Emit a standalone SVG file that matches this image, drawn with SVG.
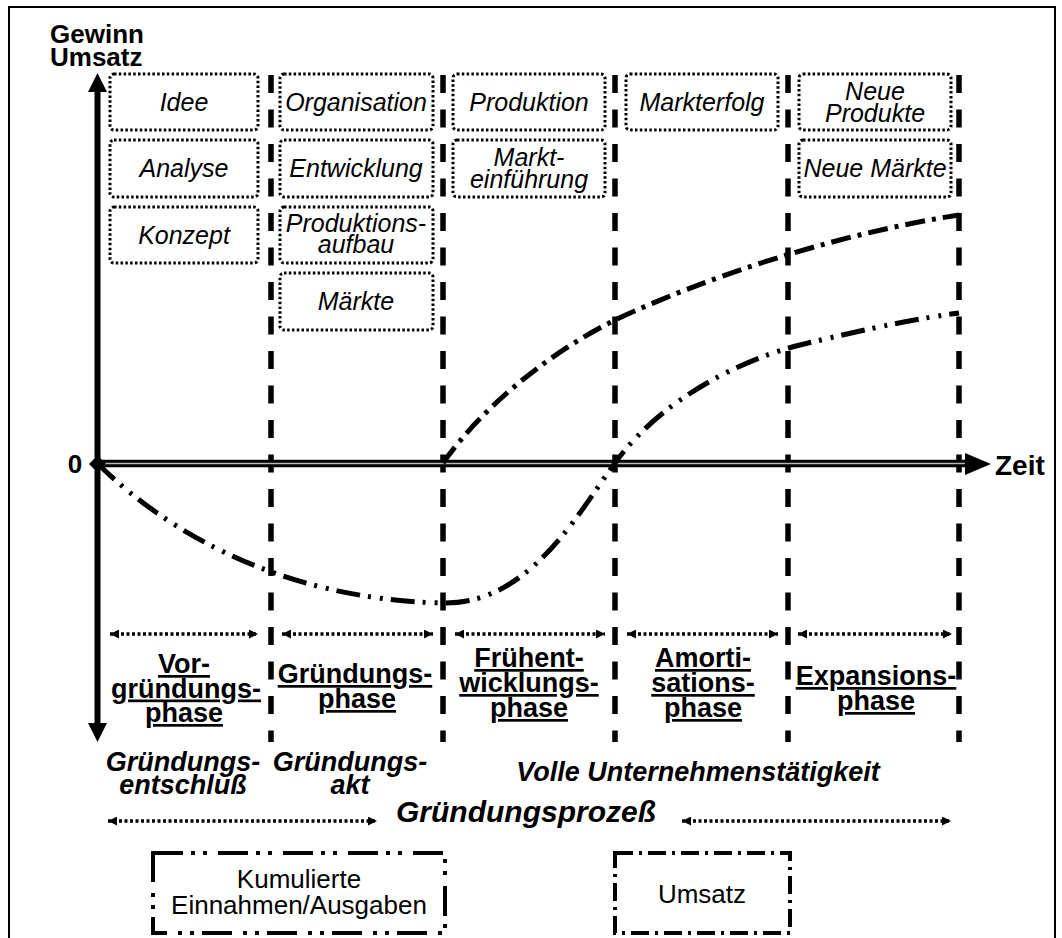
<svg xmlns="http://www.w3.org/2000/svg" width="1062" height="938" viewBox="0 0 1062 938">
<style>
.frame{fill:none;stroke:#000;stroke-width:2}
.vdash{stroke:#000;stroke-width:5.5;stroke-dasharray:18 16.5;fill:none}
.box{fill:#fff;stroke:#000;stroke-width:3;stroke-dasharray:2.5 2.3}
.it{font-family:"Liberation Sans",Arial,sans-serif;font-style:italic;font-size:25px;text-anchor:middle;fill:#000}
.ph{font-family:"Liberation Sans",Arial,sans-serif;font-weight:bold;font-size:27px;text-anchor:middle;text-decoration:underline;fill:#000}
.bi{font-family:"Liberation Sans",Arial,sans-serif;font-weight:bold;font-style:italic;font-size:27px;text-anchor:middle;fill:#000}
.b{font-family:"Liberation Sans",Arial,sans-serif;font-weight:bold;font-size:26px;fill:#000}
.leg{font-family:"Liberation Sans",Arial,sans-serif;font-size:26px;text-anchor:middle;fill:#000}
.arr{fill:none;stroke:#000;stroke-width:3.5;stroke-dasharray:3 2.5;marker-start:url(#ah);marker-end:url(#ah)}
.cum{fill:none;stroke:#000;stroke-width:5;stroke-dasharray:24 8 3 9 3 8}
.ums{fill:none;stroke:#000;stroke-width:5;stroke-dasharray:20 7 4 7}
.lcum{fill:#fff;stroke:#000;stroke-width:4;stroke-dasharray:30 8 4 8 4 11}
.lums{fill:#fff;stroke:#000;stroke-width:4;stroke-dasharray:18 6 3 6}
</style>
<defs>
<marker id="ah" viewBox="0 0 10 10" refX="10" refY="5" markerWidth="10" markerHeight="9" markerUnits="userSpaceOnUse" orient="auto-start-reverse">
<path d="M0,0 L10,5 L0,10 z" fill="#000"/>
</marker>
</defs>
<rect class="frame" x="9" y="7" width="1046" height="945"/>

<g id="phase-dividers">
<line class="vdash" x1="271" y1="75" x2="271" y2="742"/>
<line class="vdash" x1="443" y1="75" x2="443" y2="742"/>
<line class="vdash" x1="615" y1="75" x2="615" y2="742"/>
<line class="vdash" x1="788" y1="75" x2="788" y2="742"/>
<line class="vdash" x1="959" y1="75" x2="959" y2="742"/>
</g>

<g id="node-idee"><rect class="box" x="110" y="74" width="148" height="56" rx="4"/><text class="it" x="184" y="111">Idee</text></g>
<g id="node-analyse"><rect class="box" x="110" y="140" width="148" height="57" rx="4"/><text class="it" x="184" y="177">Analyse</text></g>
<g id="node-konzept"><rect class="box" x="110" y="207" width="148" height="56" rx="4"/><text class="it" x="184" y="244">Konzept</text></g>

<g id="node-organisation"><rect class="box" x="280" y="74" width="153" height="56" rx="4"/><text class="it" x="356" y="111">Organisation</text></g>
<g id="node-entwicklung"><rect class="box" x="280" y="140" width="153" height="57" rx="4"/><text class="it" x="356" y="177">Entwicklung</text></g>
<g id="node-produktionsaufbau"><rect class="box" x="280" y="207" width="153" height="56" rx="4"/><text class="it" x="356" y="232">Produktions-</text><text class="it" x="356" y="253">aufbau</text></g>
<g id="node-maerkte"><rect class="box" x="280" y="273" width="153" height="57" rx="4"/><text class="it" x="356" y="310">Märkte</text></g>

<g id="node-produktion"><rect class="box" x="453" y="74" width="152" height="56" rx="4"/><text class="it" x="529" y="111">Produktion</text></g>
<g id="node-markteinfuehrung"><rect class="box" x="453" y="140" width="152" height="57" rx="4"/><text class="it" x="529" y="166">Markt-</text><text class="it" x="529" y="188">einführung</text></g>

<g id="node-markterfolg"><rect class="box" x="626" y="74" width="152" height="56" rx="4"/><text class="it" x="702" y="111">Markterfolg</text></g>

<g id="node-neue-produkte"><rect class="box" x="799" y="74" width="152" height="56" rx="4"/><text class="it" x="875" y="100">Neue</text><text class="it" x="875" y="122">Produkte</text></g>
<g id="node-neue-maerkte"><rect class="box" x="799" y="140" width="152" height="57" rx="4"/><text class="it" x="875" y="177">Neue Märkte</text></g>

<g id="axes">
<line x1="97.5" y1="88" x2="97.5" y2="726" stroke="#000" stroke-width="6"/>
<polygon points="88,92 97.5,73 107,92" fill="#000"/>
<polygon points="88,723 97.5,742 107,723" fill="#000"/>
<line x1="97" y1="463.5" x2="968" y2="463.5" stroke="#000" stroke-width="7.5"/>
<line x1="97" y1="463.5" x2="966" y2="463.5" stroke="#b8b8b8" stroke-width="1.5"/>
<polygon points="965,453 991,464 965,475" fill="#000"/>
<polygon points="89,464 97.5,455.5 106,464 97.5,472.5" fill="#000"/>
<text class="b" x="50" y="43">Gewinn</text>
<text class="b" x="50" y="66">Umsatz</text>
<text class="b" x="75" y="473" text-anchor="middle">0</text>
<text class="b" x="995" y="475" style="font-size:28px">Zeit</text>
</g>

<g id="connectors">
<path class="cum" d="M97,463 C180,545 300,600 443,603 C530,605 580,510 615,463 C660,400 740,360 800,345 C870,328 920,318 959,313"/>
<path class="ums" d="M443,463 C480,410 545,355 615,320 C700,280 830,235 959,215"/>
<line class="arr" x1="110" y1="634" x2="258" y2="634"/>
<line class="arr" x1="282" y1="634" x2="433" y2="634"/>
<line class="arr" x1="455" y1="634" x2="605" y2="634"/>
<line class="arr" x1="627" y1="634" x2="778" y2="634"/>
<line class="arr" x1="798" y1="634" x2="952" y2="634"/>
<line class="arr" x1="108" y1="821" x2="377" y2="821"/>
<line class="arr" x1="682" y1="821" x2="951" y2="821"/>
</g>

<g id="phase-vorgruendung"><text class="ph" x="184" y="673">Vor-</text><text class="ph" x="186" y="697.5">gründungs-</text><text class="ph" x="184" y="722">phase</text></g>
<g id="phase-gruendung"><text class="ph" x="355" y="683">Gründungs-</text><text class="ph" x="357" y="708">phase</text></g>
<g id="phase-fruehentwicklung"><text class="ph" x="529" y="667">Frühent-</text><text class="ph" x="529" y="692">wicklungs-</text><text class="ph" x="529" y="717">phase</text></g>
<g id="phase-amortisation"><text class="ph" x="703" y="667">Amorti-</text><text class="ph" x="703" y="692">sations-</text><text class="ph" x="703" y="717">phase</text></g>
<g id="phase-expansion"><text class="ph" x="876" y="685">Expansions-</text><text class="ph" x="876" y="710">phase</text></g>

<g id="milestones">
<text class="bi" x="183" y="771">Gründungs-</text><text class="bi" x="183" y="794">entschluß</text>
<text class="bi" x="350" y="771">Gründungs-</text><text class="bi" x="350" y="794">akt</text>
<text class="bi" x="698" y="781">Volle Unternehmenstätigkeit</text>
<text class="bi" x="526" y="822" style="font-size:30px">Gründungsprozeß</text>
</g>

<g id="legend-kumuliert"><rect class="lcum" x="153" y="853" width="292" height="80"/><text class="leg" x="299" y="888">Kumulierte</text><text class="leg" x="299" y="914">Einnahmen/Ausgaben</text></g>
<g id="legend-umsatz"><rect class="lums" x="615" y="853" width="175" height="80"/><text class="leg" x="702" y="903">Umsatz</text></g>
</svg>
